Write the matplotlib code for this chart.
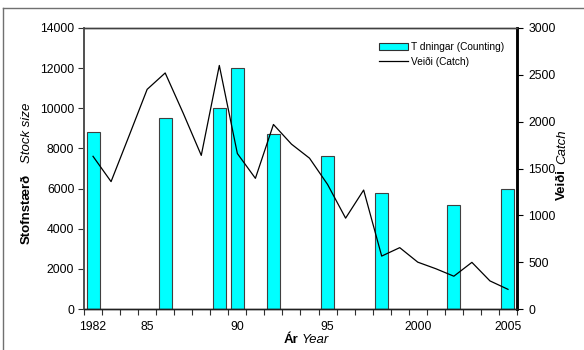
import numpy as np
import matplotlib
matplotlib.use("Agg")
import matplotlib.pyplot as plt
from matplotlib.lines import Line2D
from matplotlib.patches import Patch

plt.rcParams['font.family'] = ['Liberation Sans', 'DejaVu Sans']

# Year axis (category axis)
years = list(range(1982, 2006))
tick_years = [1982, 1985, 1990, 1995, 2000, 2005]
tick_labels = ["1982", "85", "90", "95", "2000", "2005"]

# Stock counts (left axis)
count_years = [1982, 1986, 1989, 1990, 1992, 1995, 1998, 2002, 2005]
counts = [8800, 9500, 10000, 12000, 8700, 7600, 5800, 5200, 6000]

# Catch (right axis)
catch = [1630, 1360, 1850, 2345, 2520, 2090, 1640, 2600, 1660, 1395,
         1970, 1760, 1610, 1330, 970, 1270, 565, 655, 500, 430,
         350, 498, 300, 210]

W, H = 584, 350
fig = plt.figure(figsize=(W / 100, H / 100), dpi=100)
fig.subplots_adjust(left=84 / W, right=517 / W, top=1 - 28 / H, bottom=1 - 309 / H)
ax = fig.add_subplot(111)
ax2 = ax.twinx()

# outer frame
fig.add_artist(Line2D([3 / W, 3 / W], [1 - 8 / H, 0], transform=fig.transFigure,
                      color="#707070", lw=1))
fig.add_artist(Line2D([3 / W, 1], [1 - 8 / H, 1 - 8 / H], transform=fig.transFigure,
                      color="#707070", lw=1))

xpos = [y - years[0] for y in count_years]
bars = ax.bar(xpos, counts, width=0.72, color="#00FFFF", edgecolor="#404040", linewidth=0.8, zorder=2)

xline = [y - years[0] for y in years]
ax2.plot(xline, catch, color="black", lw=0.9, zorder=3)

ax.set_xlim(-0.5, len(years) - 0.5)
ax.set_ylim(0, 14000)
ax2.set_ylim(0, 3000)
ax.set_yticks(np.arange(0, 14001, 2000))
ax2.set_yticks(np.arange(0, 3001, 500))

TS = 8.8
ax.set_xticks([y - years[0] for y in tick_years], tick_labels)
ax.set_xticks(np.arange(-0.5, len(years), 1), minor=True)
ax.tick_params(axis="x", which="major", length=0, pad=9, labelsize=TS)
ax.tick_params(axis="x", which="minor", length=4, width=0.8, color="#303030")
ax.tick_params(axis="y", length=4, width=0.8, labelsize=TS, pad=3, color="#303030")
ax2.tick_params(axis="y", length=4, width=0.8, labelsize=TS, pad=4)

for a in (ax, ax2):
    a.spines["left"].set_color("#505050")
    a.spines["left"].set_linewidth(1.2)
    a.spines["top"].set_color("#404040")
    a.spines["top"].set_linewidth(1.0)
    a.spines["bottom"].set_color("#202020")
    a.spines["bottom"].set_linewidth(1.0)
    a.spines["right"].set_color("black")
    a.spines["right"].set_linewidth(1.8)

# axis titles
LS = 9.5
fig.text(27 / W, 1 - 244 / H, "Stofnstærð", rotation=90, ha="center", va="bottom",
         fontsize=LS, fontweight="bold")
fig.text(27 / W, 1 - 163 / H, "Stock size", rotation=90, ha="center", va="bottom",
         fontsize=LS, fontstyle="italic")
fig.text(562 / W, 1 - 200 / H, "Veiði", rotation=90, ha="center", va="bottom",
         fontsize=LS, fontweight="bold")
fig.text(562 / W, 1 - 164 / H, "Catch", rotation=90, ha="center", va="bottom",
         fontsize=LS, fontstyle="italic")
fig.text(298 / W, 1 - 340 / H, "Ár", ha="right", va="center", fontsize=LS, fontweight="bold")
fig.text(302 / W, 1 - 340 / H, "Year", ha="left", va="center", fontsize=LS, fontstyle="italic")

handles = [Patch(facecolor="#00FFFF", edgecolor="#303030", linewidth=0.8),
           Line2D([], [], color="black", lw=0.9)]
ax2.legend(handles, ["T dningar (Counting)", "Veiði (Catch)"], loc="upper left",
           bbox_to_anchor=(379 / W, 1 - 42 / H), bbox_transform=fig.transFigure,
           frameon=False, fontsize=7.3, borderpad=0, borderaxespad=0,
           handlelength=2.9, handletextpad=0.3, labelspacing=0.45, handleheight=0.6)

fig.savefig("out.png", dpi=100)
